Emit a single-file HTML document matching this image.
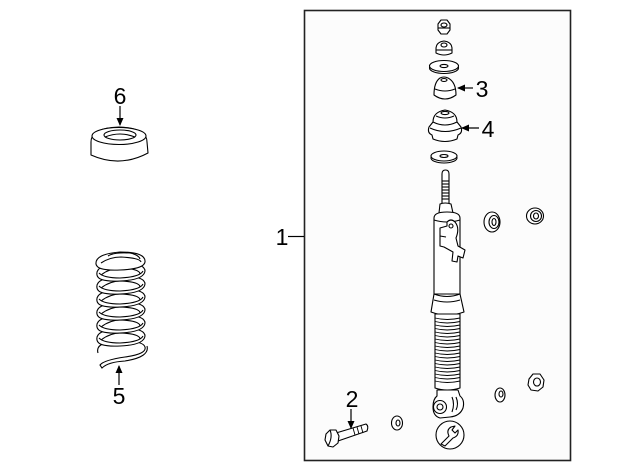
<!DOCTYPE html>
<html><head><meta charset="utf-8"><style>
html,body{margin:0;padding:0;background:#fff;}
svg{display:block;}
text{font-family:"Liberation Sans",sans-serif;font-size:23px;fill:#000;}
</style></head><body>
<svg width="640" height="471" viewBox="0 0 640 471" xmlns="http://www.w3.org/2000/svg">
<defs>
<marker id="ah" markerWidth="8" markerHeight="8" refX="7" refY="4" orient="auto" markerUnits="userSpaceOnUse">
<path d="M0,0.5 L8,4 L0,7.5 Z" fill="#000"/>
</marker>
</defs>
<!-- frame -->
<rect x="304.5" y="10.5" width="266" height="450" fill="#fcfcfc" stroke="#222" stroke-width="1.6"/>
<line x1="288" y1="236.5" x2="304" y2="236.5" stroke="#000" stroke-width="1.2"/>
<text x="282" y="245" text-anchor="middle">1</text>

<g fill="#fff" stroke="#000" stroke-width="1.1" stroke-linejoin="round">
<!-- top nut -->
<polygon points="438,24 441,20 447,20 450,24 450,30 447,34 441,34 438,30"/>
<ellipse cx="444" cy="25" rx="3" ry="2"/>
<line x1="438" y1="28" x2="450" y2="28"/>
<!-- nut 2 -->
<path d="M436,49 Q436,42 444,41 Q452,42 452,49 L452,53 Q444,57 436,53 Z"/>
<ellipse cx="444" cy="45" rx="3" ry="2"/>
<line x1="436" y1="50" x2="452" y2="50"/>
<!-- washer -->
<ellipse cx="444" cy="68" rx="14.5" ry="5.5"/>
<ellipse cx="444" cy="66" rx="14.5" ry="5.5"/>
<ellipse cx="444" cy="66" rx="4" ry="1.6"/>
<!-- item 3 bump stop -->
<path d="M434,95 Q434,82 440,78 Q444,76 448,78 Q456,82 456,95 Q445,103 434,95 Z"/>
<path d="M435,89 Q445,93 455,89" fill="none"/>
<ellipse cx="444" cy="80" rx="3" ry="1.5"/>
<!-- item 4 mount -->
<path d="M433,122 Q433,112 445,110 Q457,112 457,122 L461,127 Q463,133 458,135 L457,139 Q445,144 433,139 L432,135 Q427,133 429,127 Z"/>
<path d="M433,122 Q445,128 457,122" fill="none"/>
<path d="M430,128 Q445,135 461,128" fill="none"/>
<path d="M436,116 Q445,120 454,116" fill="none"/>
<ellipse cx="445" cy="113" rx="4" ry="1.6"/>
<!-- lower washer -->
<ellipse cx="444" cy="158" rx="13" ry="5"/>
<ellipse cx="444" cy="156" rx="13" ry="5"/>
<ellipse cx="444" cy="156" rx="4" ry="1.5"/>
<!-- shaft -->
<path d="M442,205 L442,174 Q442,170 445.5,170 Q449,170 449,174 L449,205 Z"/>
<g fill="none">
<line x1="442" y1="181" x2="449" y2="181"/><line x1="442" y1="184" x2="449" y2="184"/>
<line x1="442" y1="187" x2="449" y2="187"/><line x1="442" y1="190" x2="449" y2="190"/>
<line x1="442" y1="193" x2="449" y2="193"/><line x1="442" y1="196" x2="449" y2="196"/>
<line x1="442" y1="199" x2="449" y2="199"/>
</g>
<!-- collar -->
<path d="M439,213 L440,204 Q445,202 451,204 L453,213 Z"/>
<!-- body -->
<path d="M434,294 L434,218 Q434,212 447,212 Q460,212 460,218 L460,294 Z"/>
<path d="M434,220 Q447,224 460,220" fill="none"/>
<!-- bracket -->
<path d="M440,228 L447,226 L447,222 Q451,218 455,222 Q460,228 456,238 L458,246 L465,250 L463,258 L458,256 L457,262 L452,261 L453,252 L444,247 L440,246 Z"/>
<circle cx="451" cy="226" r="2"/>
<path d="M440,236 L446,237" fill="none"/>
<!-- band & flare -->
<path d="M434,294 Q447,299 460,294 L464,312 Q447,318 431,312 Z"/>
<path d="M434,300 Q447,304 460,300" fill="none"/>
<!-- bellows -->
<path d="M435,314 L460,314 L460,388 Q447,392 435,388 Z"/>
<g fill="none" stroke-width="0.9">
<path d="M435,318 Q447,321 460,318"/><path d="M435,321.5 Q447,324.5 460,321.5"/>
<path d="M435,325 Q447,328 460,325"/><path d="M435,328.5 Q447,331.5 460,328.5"/>
<path d="M435,332 Q447,335 460,332"/><path d="M435,335.5 Q447,338.5 460,335.5"/>
<path d="M435,339 Q447,342 460,339"/><path d="M435,342.5 Q447,345.5 460,342.5"/>
<path d="M435,346 Q447,349 460,346"/><path d="M435,349.5 Q447,352.5 460,349.5"/>
<path d="M435,353 Q447,356 460,353"/><path d="M435,356.5 Q447,359.5 460,356.5"/>
<path d="M435,360 Q447,363 460,360"/><path d="M435,363.5 Q447,366.5 460,363.5"/>
<path d="M435,367 Q447,370 460,367"/><path d="M435,370.5 Q447,373.5 460,370.5"/>
<path d="M435,374 Q447,377 460,374"/><path d="M435,377.5 Q447,380.5 460,377.5"/>
<path d="M435,381 Q447,384 460,381"/>
</g>
<!-- eye -->
<path d="M437,390 L458,390 L460,396 Q465,400 463,408 Q460,416 450,417 L440,418 Q433,416 433,407 Q433,399 437,396 Z"/>
<path d="M452,397 Q455,404 452,412" fill="none"/>
<path d="M456,397 Q459,404 456,410" fill="none"/>
<circle cx="440" cy="407" r="6.5"/>
<circle cx="440" cy="407" r="3"/>
<!-- wrench circle -->
<circle cx="450" cy="435" r="14"/>
<path d="M441,444 L449,436 Q446,430 451,427 L455,426 L452,430 L455,433 L458,430 Q459,436 453,438 L445,446 Z" fill="none"/>
<!-- right bushings -->
<ellipse cx="492" cy="222" rx="8" ry="10"/>
<ellipse cx="494" cy="222" rx="5" ry="6.5"/>
<ellipse cx="494" cy="222" rx="2" ry="3.5"/>
<ellipse cx="535" cy="216" rx="8.5" ry="8"/>
<ellipse cx="536" cy="216" rx="5.5" ry="5.5"/>
<ellipse cx="536" cy="216" rx="2.5" ry="3"/>
<!-- bottom right washer & nut -->
<ellipse cx="500" cy="395" rx="5" ry="7"/>
<ellipse cx="501" cy="394" rx="2" ry="3"/>
<polygon points="529,379 533,374 540,374 544,380 543,387 538,391 531,390 528,385"/>
<ellipse cx="537" cy="382" rx="3.5" ry="4"/>
<!-- bottom washer -->
<ellipse cx="397" cy="423" rx="5.5" ry="7"/>
<ellipse cx="398" cy="423" rx="2" ry="3"/>
<!-- bolt -->
<path d="M336,433 L366,424 Q369,426 367,431 L338,441 Z"/>
<g fill="none" stroke-width="0.9">
<line x1="353" y1="428" x2="355" y2="435"/>
<line x1="357" y1="427" x2="359" y2="434"/>
<line x1="361" y1="426" x2="363" y2="433"/>
</g>
<polygon points="326,434 330,430 336,430 339,436 338,443 333,447 328,446 325,440"/>
<path d="M330,430 Q333,437 328,446" fill="none"/>
<!-- item 6 cup -->
<path d="M91,142 Q91,128 119,127 Q147,128 147,142 L148,153 Q120,168 91,155 Z"/>
<ellipse cx="119" cy="136" rx="27" ry="8.5"/>
<ellipse cx="120" cy="135" rx="16" ry="5"/>
<path d="M105,137 Q120,131 135,137" fill="none"/>
</g>

<!-- spring -->
<g fill="#fff" stroke="#000" stroke-width="1.1">
<path d="M98,353 Q95,343 115,341 Q143,340 145,347 Q147,354 125,357 Q104,360 100,365 L102,368 Q108,362 125,361 Q150,357 147,346"/>
<path d="M97,340 Q95,330 120,328 Q145,328 145,336 Q144,345 120,346 Q98,347 97,340 Z"/>
<path d="M101,340 Q110,333 121,333 Q140,334 140,339" fill="none"/>
<path d="M99,338 Q104,343 120,343 Q140,342 143,336" fill="none"/>
<path d="M97,327 Q95,317 120,315 Q145,315 145,323 Q144,332 120,333 Q98,334 97,327 Z"/>
<path d="M101,327 Q110,320 121,320 Q140,321 140,326" fill="none"/>
<path d="M99,325 Q104,330 120,330 Q140,329 143,323" fill="none"/>
<path d="M97,314 Q95,304 120,302 Q145,302 145,310 Q144,319 120,320 Q98,321 97,314 Z"/>
<path d="M101,314 Q110,307 121,307 Q140,308 140,313" fill="none"/>
<path d="M99,312 Q104,317 120,317 Q140,316 143,310" fill="none"/>
<path d="M97,301 Q95,291 120,289 Q145,289 145,297 Q144,306 120,307 Q98,308 97,301 Z"/>
<path d="M101,301 Q110,294 121,294 Q140,295 140,300" fill="none"/>
<path d="M99,299 Q104,304 120,304 Q140,303 143,297" fill="none"/>
<path d="M97,288 Q95,278 120,276 Q145,276 145,284 Q144,293 120,294 Q98,295 97,288 Z"/>
<path d="M101,288 Q110,281 121,281 Q140,282 140,287" fill="none"/>
<path d="M99,286 Q104,291 120,291 Q140,290 143,284" fill="none"/>
<path d="M97,275 Q95,265 120,263 Q145,263 145,271 Q144,280 120,281 Q98,282 97,275 Z"/>
<path d="M101,275 Q110,268 121,268 Q140,269 140,274" fill="none"/>
<path d="M99,273 Q104,278 120,278 Q140,277 143,271" fill="none"/>
<path d="M96,264 Q95,254 120,252 Q146,252 145,262 Q144,269 120,270 Q97,271 96,264 Z"/>
<path d="M101,263 Q110,257 121,257 Q140,258 141,262" fill="none"/>
<path d="M108,256 Q114,252 130,253 Q139,255 140,259" fill="none"/>
</g>

<!-- arrows -->
<g stroke="#000" stroke-width="1.2" fill="none">
<line x1="473" y1="88" x2="458" y2="88" marker-end="url(#ah)"/>
<line x1="479" y1="128" x2="462" y2="128" marker-end="url(#ah)"/>
<line x1="120" y1="106" x2="120" y2="125" marker-end="url(#ah)"/>
<line x1="119" y1="385" x2="119" y2="366" marker-end="url(#ah)"/>
<line x1="351" y1="409" x2="351" y2="428" marker-end="url(#ah)"/>
</g>

<text x="482" y="97" text-anchor="middle">3</text>
<text x="488" y="137" text-anchor="middle">4</text>
<text x="120" y="104" text-anchor="middle">6</text>
<text x="119" y="404" text-anchor="middle">5</text>
<text x="352" y="407" text-anchor="middle">2</text>
</svg>
</body></html>
